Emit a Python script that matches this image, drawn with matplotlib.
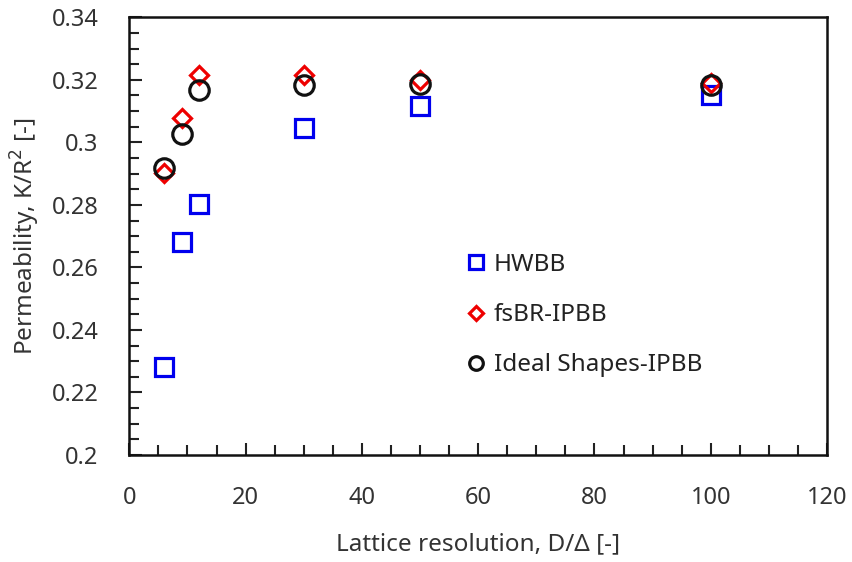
import matplotlib
matplotlib.use("Agg")
import matplotlib.pyplot as plt
from matplotlib.ticker import MultipleLocator

plt.rcParams['font.family'] = ['Noto Sans', 'DejaVu Sans']

# Lattice resolution D/Δ and permeability K/R² for each boundary scheme
resolution = [6, 9, 12, 30, 50, 100]
hwbb = [0.2282, 0.2681, 0.2803, 0.3047, 0.3116, 0.3152]
fsbr_ipbb = [0.2902, 0.3077, 0.3216, 0.3216, 0.3200, 0.3189]
ideal_ipbb = [0.2917, 0.3026, 0.3168, 0.3182, 0.3186, 0.3183]

series_labels = ['HWBB', 'fsBR-IPBB', 'Ideal Shapes-IPBB']
x_ticks = [0, 20, 40, 60, 80, 100, 120]
y_ticks = [0.2, 0.22, 0.24, 0.26, 0.28, 0.3, 0.32, 0.34]
y_tick_labels = ['0.2', '0.22', '0.24', '0.26', '0.28', '0.3', '0.32', '0.34']

fig = plt.figure(figsize=(8.53, 5.62), dpi=100)
ax = fig.add_axes([129.3 / 853, 1 - 455 / 562, (827 - 129.3) / 853, (455 - 17.3) / 562])

ax.plot(resolution, hwbb, linestyle='none', marker='s', markersize=13.5,
        markerfacecolor='none', markeredgecolor='#0000ee', markeredgewidth=2.3,
        label=series_labels[0])
ax.plot(resolution, fsbr_ipbb, linestyle='none', marker='D', markersize=9.5,
        markerfacecolor='none', markeredgecolor='#ee0000', markeredgewidth=2.3,
        label=series_labels[1])
ax.plot(resolution, ideal_ipbb, linestyle='none', marker='o', markersize=14,
        markerfacecolor='none', markeredgecolor='#111111', markeredgewidth=2.3,
        label=series_labels[2])

ax.set_xlim(0, 120)
ax.set_ylim(0.2, 0.34)
ax.set_xticks(x_ticks)
ax.set_yticks(y_ticks)
ax.set_yticklabels(y_tick_labels)
ax.xaxis.set_minor_locator(MultipleLocator(5))
ax.yaxis.set_minor_locator(MultipleLocator(0.005))

ax.tick_params(axis='both', which='both', direction='in', top=False, right=False,
               width=1.5, colors='#222222', labelcolor='#333333', labelsize=17, pad=22)
ax.tick_params(axis='both', which='major', length=9)
ax.tick_params(axis='both', which='minor', length=7)
for side in ax.spines.values():
    side.set_linewidth(1.8)
    side.set_color('#111111')

ax.set_xlabel('Lattice resolution, D/Δ [-]', fontsize=17.5, color='#333333', labelpad=16)
ax.set_ylabel('Permeability, K/R$^2$ [-]', fontsize=17.5, color='#333333', labelpad=7)

leg = ax.legend(loc='upper left', bbox_to_anchor=(0.446, 0.512), frameon=False,
                fontsize=17.5, handletextpad=0.15, handlelength=1.15,
                labelspacing=1.08, markerscale=0.7, labelcolor='#222222')

fig.savefig('out.png', dpi=100)
